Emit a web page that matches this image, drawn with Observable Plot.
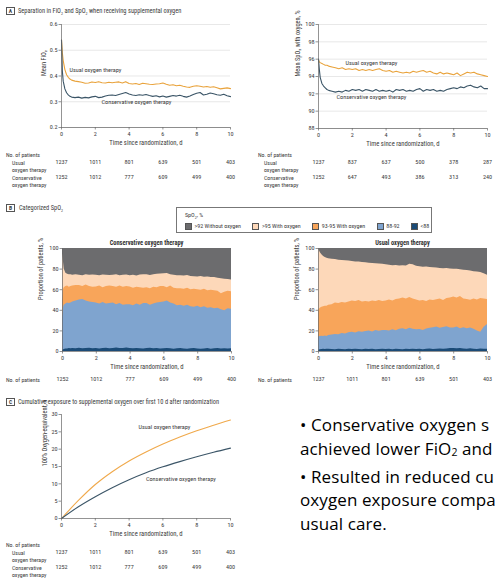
<!DOCTYPE html>
<html><head><meta charset="utf-8">
<script src="https://cdn.jsdelivr.net/npm/d3@7"></script>
<script src="https://cdn.jsdelivr.net/npm/@observablehq/plot@0.6"></script>
<style>
html,body{margin:0;padding:0;background:#fff;}
#root{position:relative;width:495px;height:578px;overflow:hidden;font-family:"Liberation Sans Narrow","Roboto Condensed",Roboto,sans-serif;color:#3a3a3a;}
.abs{position:absolute;white-space:nowrap;}
.lbl{font-size:5.8px;height:10px;line-height:10px;}
.ttl{font-size:6.4px;height:10px;line-height:10px;}
.btl{font-size:6.4px;height:10px;line-height:10px;font-weight:bold;transform:translateX(-50%);color:#333;}
.box{position:absolute;border:0.8px solid #555;font-size:5.6px;font-weight:bold;text-align:center;box-sizing:border-box;line-height:7px;}
#legend{position:absolute;left:176px;top:207px;width:256px;height:26px;border:0.8px solid #777;box-sizing:border-box;}
#legend .head{position:absolute;left:8px;top:2px;font-size:6px;line-height:10px;white-space:nowrap;}
#legend .items{position:absolute;left:8px;top:14px;width:max-content;display:flex;gap:11.5px;font-size:6px;line-height:8px;white-space:nowrap;}
#legend .it{display:flex;align-items:center;gap:2.5px;flex:none;white-space:nowrap;}
#legend .sw{width:7px;height:7px;box-sizing:border-box;border:0.6px solid #555;flex:none;}
#bullets{position:absolute;left:300px;top:413px;font-family:"Open Sans",sans-serif;font-size:17px;letter-spacing:0.1px;line-height:23.8px;color:#000;white-space:nowrap;}
#bullets sub{font-size:10.5px;vertical-align:-1px;}
</style>
</head><body>
<div id="root"></div>
<script>
// ---------- data ----------
const days = [
  0, 0.05, 0.1, 0.2, 0.3, 0.4, 0.5, 0.6,
  0.8, 1.0, 1.2, 1.4, 1.6,
  1.8, 2.0, 2.2, 2.4, 2.6,
  2.8, 3.0, 3.2, 3.4, 3.6,
  3.8, 4.0, 4.2, 4.4, 4.6,
  4.8, 5.0, 5.2, 5.4, 5.6,
  5.8, 6.0, 6.2, 6.4, 6.6,
  6.8, 7.0, 7.2, 7.4, 7.6,
  7.8, 8.0, 8.2, 8.4, 8.6,
  8.8, 9.0, 9.2, 9.4, 9.6,
  9.8, 10.0];

const fio2Usual = [
  0.54, 0.49, 0.46, 0.425, 0.405, 0.395, 0.388, 0.384,
  0.380, 0.378, 0.376, 0.372, 0.373,
  0.377, 0.375, 0.378, 0.374, 0.373,
  0.376, 0.374, 0.376, 0.377, 0.373,
  0.378, 0.371, 0.369, 0.371, 0.367,
  0.372, 0.370, 0.368, 0.367, 0.369,
  0.370, 0.373, 0.368, 0.364, 0.366,
  0.362, 0.364, 0.360, 0.357, 0.356,
  0.360, 0.362, 0.360, 0.357, 0.359,
  0.356, 0.358, 0.354, 0.350, 0.352,
  0.354, 0.351];
const fio2Cons = [
  0.54, 0.42, 0.38, 0.35, 0.335, 0.327, 0.321, 0.318,
  0.316, 0.318, 0.314, 0.317, 0.315,
  0.319, 0.321, 0.316, 0.318, 0.322,
  0.325, 0.326, 0.324, 0.328, 0.332,
  0.336, 0.330, 0.326, 0.324, 0.327,
  0.325, 0.328, 0.324, 0.321, 0.323,
  0.319, 0.322, 0.318, 0.321, 0.324,
  0.322, 0.325, 0.321, 0.318, 0.322,
  0.328, 0.333, 0.336, 0.326, 0.329,
  0.334, 0.331, 0.327, 0.325, 0.329,
  0.323, 0.320];

const spo2Usual = [
  95.9, 95.7, 95.6, 95.5, 95.4, 95.3, 95.3, 95.2,
  95.1, 95.0, 94.9, 95.0, 94.8,
  94.9, 94.8, 94.9, 94.7, 94.8,
  94.7, 94.8, 94.7, 94.8, 94.9,
  94.7, 94.6, 94.7, 94.5, 94.6,
  94.5, 94.4, 94.5, 94.4, 94.6,
  94.5, 94.6, 94.7, 94.5, 94.6,
  94.4, 94.3, 94.5, 94.3, 94.4,
  94.3, 94.2, 94.4, 94.1, 94.3,
  94.5, 94.4, 94.5, 94.3, 94.2,
  94.1, 94.0];
const spo2Cons = [
  96.0, 94.8, 93.9, 93.2, 92.9, 92.7, 92.5, 92.4,
  92.3, 92.2, 92.3, 92.2, 92.4,
  92.3, 92.5, 92.4, 92.5, 92.3,
  92.5, 92.4, 92.3, 92.5, 92.3,
  92.4, 92.3, 92.4, 92.2, 92.5,
  92.4, 92.5, 92.3, 92.4, 92.3,
  92.5, 92.6, 92.3, 92.5, 92.4,
  92.5, 92.3, 92.4, 92.3, 92.5,
  92.6, 92.7, 92.6, 92.8, 92.7,
  92.9, 93.0, 92.8, 92.7, 92.9,
  92.6, 92.6];

// Categorized SpO2: cumulative upper edges (%) of each band, bottom to top
const consLt88 = [
  1.0, 1.5, 2.0, 2.5, 2.5, 2.8, 2.6, 3.0,
  2.7, 3.1, 2.6, 2.9, 3.2,
  2.7, 3.0, 2.5, 2.8, 3.1,
  2.6, 2.9, 3.3, 2.8, 3.0,
  3.4, 2.9, 2.6, 3.0, 2.7,
  2.5, 2.9, 3.1, 2.6, 2.8,
  2.4, 2.7, 3.0, 2.6, 2.3,
  2.6, 2.9, 2.5, 2.2, 2.6,
  2.8, 2.4, 2.1, 2.5, 2.8,
  2.3, 2.6, 3.0, 2.4, 2.7,
  2.5, 2.6];
const cons88to92 = [
  33, 42, 45, 46, 47, 46.5, 47, 48,
  49, 50, 50.5, 49, 48,
  47.5, 47, 46, 47.5, 46,
  46.5, 47, 45.5, 46.5, 45,
  45.5, 45.5, 44.5, 46, 45,
  46.5, 46.5, 45, 46, 47,
  47.5, 48, 49, 47, 46,
  44.5, 45, 44, 45, 43.5,
  43, 44, 42.5, 43.5, 42,
  42.5, 41.5, 42, 40.5, 39.5,
  41.5, 41];
const cons93to95 = [
  50, 60, 62, 63, 63.5, 62.5, 63, 63.5,
  64, 64, 63, 64.5, 63,
  62.5, 62.6, 63.5, 62, 63,
  63.5, 63, 62.5, 63.5, 62.5,
  63, 62.6, 61.5, 62.5, 62,
  61.5, 62, 61, 62.5, 62,
  63, 63, 62, 63.5, 61.5,
  61, 61, 60.5, 61.5, 60,
  60.5, 60, 59.5, 60.5, 59,
  59.5, 59, 58.5, 56, 57.5,
  58.5, 58];
const consGt95 = [
  95, 88, 80, 76, 75, 74.5, 74.6, 74,
  74.5, 74, 73.6, 74.4, 74,
  74.2, 74, 73.5, 74.3, 74,
  73.8, 74, 74.5, 73.6, 74,
  74.3, 73.5, 74, 73.4, 74.2,
  74.6, 74.5, 73.8, 74.4, 75,
  75.3, 75.5, 75.8, 74.6, 74,
  73.5, 73.5, 73.2, 73.8, 72.8,
  72.6, 72.4, 72.8, 72, 72.4,
  71.8, 71.8, 71.2, 70.6, 70.2,
  69.8, 69.5];

const usualLt88 = [
  1.0, 1.5, 1.8, 2.0, 2.2, 1.9, 2.1, 2.3,
  2.0, 1.8, 2.2, 2.0, 1.7,
  2.1, 1.9, 2.3, 2.0, 1.8,
  2.2, 1.9, 2.1, 1.7, 2.0,
  2.3, 1.9, 2.1, 1.8, 2.2,
  2.0, 1.7, 2.1, 1.9, 2.3,
  2.0, 2.2, 1.8, 2.1, 2.4,
  2.0, 2.2, 2.5, 2.1, 2.4,
  2.8, 3.0, 2.6, 2.9, 2.5,
  2.2, 2.6, 2.3, 2.0, 2.4,
  2.1, 2.2];
const usual88to92 = [
  14, 14.3, 14.5, 14.8, 14.6, 15, 14.6, 15.5,
  16, 16.6, 16.2, 17.4, 17,
  18.2, 18.8, 18, 19.2, 18.6,
  19.5, 19.8, 19, 20.3, 19.6,
  20.4, 20.5, 19.8, 21, 20.2,
  21.5, 22, 21, 22.5, 21.6,
  21.2, 21.4, 20.5, 21.8, 22.5,
  23, 23.7, 22.5, 23.2, 24,
  22.7, 22.7, 23.8, 22.2, 23,
  22, 22.7, 21.5, 20, 18.8,
  23.5, 26.3];
const usual93to95 = [
  40, 41, 42, 43, 43.5, 44, 44, 45,
  45.5, 47, 46.5, 47.5, 47,
  48, 49, 48.5, 49.5, 48,
  48.5, 48, 49, 48.5, 49.5,
  48.5, 49, 50, 49, 50.5,
  51, 52, 51, 52.5, 51,
  50, 49, 49.5, 48.5, 50,
  49.5, 50.3, 51, 49.5, 51.5,
  52, 53, 52, 53.5, 51,
  50.5, 49.7, 51, 50, 51.5,
  51, 50.6];
const usualGt95 = [
  100, 98, 96, 94, 92.3, 91.2, 90.5, 90,
  89.5, 89.2, 88.6, 88.3, 88,
  87.8, 87.4, 87, 86.8, 86.5,
  86.2, 85.8, 85.5, 85.2, 85,
  84.6, 84.2, 83.8, 83.2, 83.4,
  83, 83.2, 83, 84.6, 84.2,
  82.8, 82.4, 81.8, 82, 81.5,
  81.2, 81, 80.6, 80.3, 80.5,
  80, 79.8, 79.8, 79.3, 79,
  78.6, 78.2, 77.5, 77.2, 76.8,
  75.5, 74];

// Cumulative exposure (h of 100% oxygen-equivalent)
const cumDays = [0, 1, 2, 3, 4, 5, 6, 7, 8, 9, 10];
const cumUsual = [0, 5.2, 9.8, 13.5, 16.6, 19.2, 21.5, 23.5, 25.3, 26.9, 28.4];
const cumCons = [0, 3.4, 6.3, 8.9, 11.2, 13.2, 14.9, 16.4, 17.8, 19.1, 20.3];

// Numbers at risk
const tickDays = [0, 2, 4, 6, 8, 10];
const nUsual = [1237, 1011, 801, 639, 501, 403];
const nCons = [1252, 1012, 777, 609, 499, 400];
const nSpo2Usual = [1237, 837, 637, 500, 378, 287];
const nSpo2Cons = [1252, 647, 493, 386, 313, 240];

const categories = [">92 Without oxygen", ">95 With oxygen", "93-95 With oxygen", "88-92", "<88"];
const catColors = ["#6c6c6e", "#fdd8b9", "#f8a55a", "#7fa4cf", "#1b4b77"];

// Side note text, as far as it is visible in the figure
const noteLines = ["• Conservative oxygen s", "achieved lower FiO<sub>2</sub> and", "• Resulted in reduced cu", "oxygen exposure compa", "usual care."];

// ---------- helpers ----------
const FONT = '"Liberation Sans Narrow","Roboto Condensed",Roboto,sans-serif';
const ORANGE = "#e9a33c", SLATE = "#3b5567", AXIS = "#666";
const root = document.getElementById("root");
const seriesRows = days.map((day, i) => ({
  day, fu: fio2Usual[i], fc: fio2Cons[i], su: spo2Usual[i], sc: spo2Cons[i],
  c1: consLt88[i], c2: cons88to92[i], c3: cons93to95[i], c4: consGt95[i],
  u1: usualLt88[i], u2: usual88to92[i], u3: usual93to95[i], u4: usualGt95[i]
}));
const cumRows = cumDays.map((day, i) => ({day, u: cumUsual[i], c: cumCons[i]}));

function place(node, left, top) {
  const d = document.createElement("div");
  d.className = "abs"; d.style.left = left + "px"; d.style.top = top + "px";
  d.appendChild(node); root.appendChild(d);
}
function label(x, cy, html, cls) {
  const d = document.createElement("div");
  d.className = "abs " + (cls || "lbl");
  d.style.left = x + "px"; d.style.top = (cy - 5) + "px";
  d.innerHTML = html; root.appendChild(d);
}
function box(x, y, letter) {
  const d = document.createElement("div");
  d.className = "box"; d.style.left = x + "px"; d.style.top = y + "px";
  d.style.width = "9px"; d.style.height = "8px"; d.textContent = letter;
  root.appendChild(d);
}
function riskMarks(rows) {
  return rows.map(({n, dy}) => Plot.text(tickDays.map((day, i) => ({day, n: String(n[i])})),
    {x: "day", text: "n", frameAnchor: "bottom", dy, fontSize: 6.2, fill: "#3a3a3a"}));
}
function chart({width, height, mt, mb, ml, mr, yDomain, yTicks, yFmt, yLabel, yDx, grid, marks, risk}) {
  return Plot.plot({
    width, height, marginTop: mt, marginBottom: mb, marginLeft: ml, marginRight: mr,
    style: {fontFamily: FONT, fontSize: "6.2px", color: "#3a3a3a", background: "transparent", overflow: "visible"},
    x: {domain: [0, 10]},
    y: {domain: yDomain},
    marks: [
      grid ? Plot.gridY({ticks: yTicks, stroke: "#d8d8d8", strokeOpacity: 1, strokeWidth: 0.6}) : null,
      ...marks,
      Plot.axisX({ticks: tickDays, tickSize: 2.5, tickPadding: 1.5, label: null, stroke: AXIS, strokeWidth: 0.7}),
      Plot.axisY({ticks: yTicks, tickSize: 2.5, tickPadding: 1.5, tickFormat: yFmt, label: null, stroke: AXIS, strokeWidth: 0.7}),
      Plot.ruleX([0], {stroke: AXIS, strokeWidth: 0.7}),
      Plot.ruleY([yDomain[0]], {stroke: AXIS, strokeWidth: 0.7}),
      Plot.text(["Time since randomization, d"], {text: d => d, frameAnchor: "bottom", dy: 17, fontSize: 6.6}),
      Plot.text([yLabel], {text: d => d, frameAnchor: "left", rotate: -90, dx: -yDx, fontSize: 6.4}),
      ...riskMarks(risk || [])
    ]
  });
}
function lineLabel(x, y, text) {
  return Plot.text([text], {x: () => x, y: () => y, text: d => d, textAnchor: "start", fontSize: 6.2, fill: "#3a3a3a"});
}

// ---------- Panel A ----------
box(6, 7, "A");
label(18, 11.3, "Separation in FiO<sub style='font-size:4px'>2</sub> and SpO<sub style='font-size:4px'>2</sub> when receiving supplemental oxygen", "ttl");

place(chart({
  width: 248, height: 195, mt: 24, mb: 68, ml: 61, mr: 18,
  yDomain: [0.2, 0.6], yTicks: [0.2, 0.3, 0.4, 0.5, 0.6], yFmt: d3.format(".1f"),
  yLabel: "Mean FiO₂", yDx: 18, grid: true,
  marks: [
    Plot.line(seriesRows, {x: "day", y: "fu", stroke: ORANGE, strokeWidth: 1.1}),
    Plot.line(seriesRows, {x: "day", y: "fc", stroke: SLATE, strokeWidth: 1.1}),
    lineLabel(0.47, 0.425, "Usual oxygen therapy"),
    lineLabel(2.37, 0.30, "Conservative oxygen therapy")
  ],
  risk: [{n: nUsual, dy: 36}, {n: nCons, dy: 51}]
}), 0, 0);

place(chart({
  width: 245, height: 195, mt: 24, mb: 67, ml: 68, mr: 8,
  yDomain: [88, 100], yTicks: [88, 90, 92, 94, 96, 98, 100], yFmt: d3.format("d"),
  yLabel: "Mean SpO₂ with oxygen, %", yDx: 21, grid: true,
  marks: [
    Plot.line(seriesRows, {x: "day", y: "su", stroke: ORANGE, strokeWidth: 1.1}),
    Plot.line(seriesRows, {x: "day", y: "sc", stroke: SLATE, strokeWidth: 1.1}),
    lineLabel(1.6, 95.5, "Usual oxygen therapy"),
    lineLabel(1.07, 91.6, "Conservative oxygen therapy")
  ],
  risk: [{n: nSpo2Usual, dy: 35}, {n: nSpo2Cons, dy: 50}]
}), 250, 0);

for (const x0 of [0, 252]) {
  label(x0 + 6, 155, "No. of patients");
  label(x0 + 12, 162.7, "Usual");
  label(x0 + 12, 170, "oxygen therapy");
  label(x0 + 12, 177.7, "Conservative");
  label(x0 + 12, 185, "oxygen therapy");
}

// ---------- Panel B ----------
box(6, 204, "B");
label(19, 207.7, "Categorized SpO<sub style='font-size:4px'>2</sub>", "ttl");

const legend = document.createElement("div");
legend.id = "legend";
legend.innerHTML = `<div class="head">SpO<sub style="font-size:4px">2</sub>, %</div><div class="items">` +
  categories.map((c, i) => `<div class="it"><div class="sw" style="background:${catColors[i]}"></div><span>${c.replace("<", "&lt;")}</span></div>`).join("") +
  `</div>`;
root.appendChild(legend);

function bandMarks(keys) {
  // painted from the top band down so every band reaches the axis
  return [
    Plot.areaY(seriesRows, {x: "day", y1: 0, y2: 100, fill: catColors[0]}),
    Plot.areaY(seriesRows, {x: "day", y1: 0, y2: keys[3], fill: catColors[1]}),
    Plot.areaY(seriesRows, {x: "day", y1: 0, y2: keys[2], fill: catColors[2]}),
    Plot.areaY(seriesRows, {x: "day", y1: 0, y2: keys[1], fill: catColors[3]}),
    Plot.areaY(seriesRows, {x: "day", y1: 0, y2: keys[0], fill: catColors[4]})
  ];
}

place(chart({
  width: 250, height: 150, mt: 13, mb: 34, ml: 62, mr: 19,
  yDomain: [0, 100], yTicks: [0, 20, 40, 60, 80, 100], yFmt: d3.format("d"),
  yLabel: "Proportion of patients, %", yDx: 22, grid: false,
  marks: bandMarks(["c1", "c2", "c3", "c4"]),
  risk: [{n: nCons, dy: 29}]
}), 0, 235);

place(chart({
  width: 245, height: 150, mt: 13, mb: 34, ml: 68, mr: 8,
  yDomain: [0, 100], yTicks: [0, 20, 40, 60, 80, 100], yFmt: d3.format("d"),
  yLabel: "Proportion of patients, %", yDx: 22, grid: false,
  marks: bandMarks(["u1", "u2", "u3", "u4"]),
  risk: [{n: nUsual, dy: 29}]
}), 250, 235);

label(146.5, 243, "Conservative oxygen therapy", "btl");
label(402.5, 243, "Usual oxygen therapy", "btl");
label(6, 380, "No. of patients");
label(258, 380, "No. of patients");

// ---------- Panel C ----------
box(6, 398, "C");
label(18, 401.7, "Cumulative exposure to supplemental oxygen over first 10 d after randomization", "ttl");

place(chart({
  width: 248, height: 178, mt: 14, mb: 60, ml: 61, mr: 18,
  yDomain: [0, 30], yTicks: [0, 5, 10, 15, 20, 25, 30], yFmt: d3.format("d"),
  yLabel: "100% Oxygen-equivalent, h", yDx: 17, grid: false,
  marks: [
    Plot.line(cumRows, {x: "day", y: "u", stroke: "#f0a94b", strokeWidth: 1.1, curve: "monotone-x"}),
    Plot.line(cumRows, {x: "day", y: "c", stroke: SLATE, strokeWidth: 1.1, curve: "monotone-x"}),
    lineLabel(4.56, 26.5, "Usual oxygen therapy"),
    lineLabel(5.0, 11.5, "Conservative oxygen therapy")
  ],
  risk: [{n: nUsual, dy: 35}, {n: nCons, dy: 50}]
}), 0, 400);

label(6, 545, "No. of patients");
label(12, 552.7, "Usual");
label(12, 560, "oxygen therapy");
label(12, 567.7, "Conservative");
label(12, 574.5, "oxygen therapy");

// ---------- side note ----------
const bullets = document.createElement("div");
bullets.id = "bullets";
bullets.innerHTML = noteLines.join("<br>");
root.appendChild(bullets);
</script>
</body></html>
